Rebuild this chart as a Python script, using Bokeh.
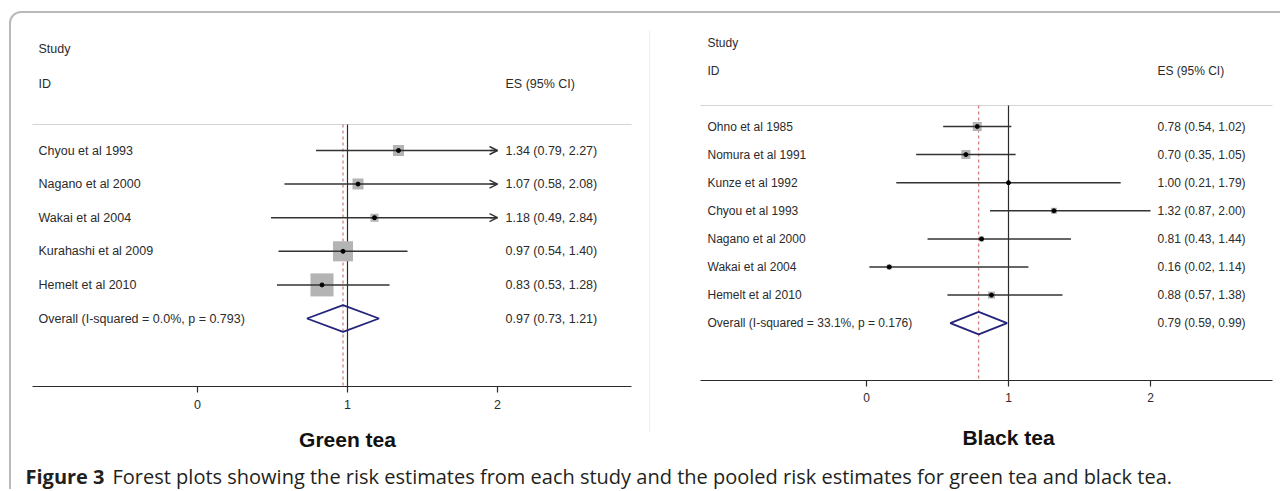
import numpy as np
from bokeh.plotting import figure
from bokeh.models import Range1d, BoxAnnotation, Arrow, OpenHead, ColumnDataSource
from bokeh.core.properties import value
from bokeh.embed import file_html
from bokeh.resources import INLINE

# ---------------- data ----------------
green_studies = ["Chyou et al 1993", "Nagano et al 2000", "Wakai et al 2004",
                 "Kurahashi et al 2009", "Hemelt et al 2010"]
green_es = [1.34, 1.07, 1.18, 0.97, 0.83]
green_lo = [0.79, 0.58, 0.49, 0.54, 0.53]
green_hi = [2.27, 2.08, 2.84, 1.40, 1.28]
green_weight = [9.8, 9.8, 5.2, 32.4, 42.8]
green_overall = [0.97, 0.73, 1.21]
green_overall_label = "Overall  (I-squared = 0.0%, p = 0.793)"

black_studies = ["Ohno et al 1985", "Nomura et al 1991", "Kunze et al 1992",
                 "Chyou et al 1993", "Nagano et al 2000", "Wakai et al 2004",
                 "Hemelt et al 2010"]
black_es = [0.78, 0.70, 1.00, 1.32, 0.81, 0.16, 0.88]
black_lo = [0.54, 0.35, 0.21, 0.87, 0.43, 0.02, 0.57]
black_hi = [1.02, 1.05, 1.79, 2.00, 1.44, 1.14, 1.38]
black_weight = [26.5, 26.5, 2.9, 11.8, 8.2, 8.2, 16.0]
black_overall = [0.79, 0.59, 0.99]
black_overall_label = "Overall  (I-squared = 33.1%, p = 0.176)"

tick_values = [0, 1, 2]
x_clip = 2
null_value = 1
caption_bold = "Figure 3"
caption_rest = ("Forest plots showing the risk estimates from each study and the "
                "pooled risk estimates for green tea and black tea.")

# ---------------- canvas ----------------
W, H = 1280, 489
OX, OY = 0, 0
p = figure(width=W, height=H, output_backend="svg", toolbar_location=None,
           x_range=Range1d(OX, OX + W), y_range=Range1d(OY + H, OY),
           x_axis_location=None, y_axis_location=None, min_border=0,
           background_fill_color="white", border_fill_color="white")
p.grid.visible = False
p.outline_line_color = None

FONT = value("Liberation Sans")
INK = "#2b2b2b"

# outer rounded frame (open at right and bottom, beyond the picture)
p.add_layout(BoxAnnotation(left=9.5, right=1400, top=11.5, bottom=700,
                           fill_alpha=0, line_color="#1a1a1a", line_width=2,
                           border_radius=11))
# faint edge of the right image
p.segment(x0=[649], x1=[649], y0=[30], y1=[432], line_color="#e9f0f0", line_width=1)


def panel(name, studies, es, lo, hi, weight, overall, overall_label, title, c):
    xr, yr = name + "_x", name + "_y"
    p.extra_x_ranges[xr] = Range1d(-(c["x0"] - OX) / c["ppu"],
                                   -(c["x0"] - OX) / c["ppu"] + W / c["ppu"])
    p.extra_y_ranges[yr] = Range1d((OY + H - c["y0"]) / c["rpp"],
                                   (OY - c["y0"]) / c["rpp"])
    n = len(studies)
    rows = list(range(n))
    hi_c = np.minimum(np.array(hi), x_clip)
    sizes = c["box"] * np.sqrt(np.array(weight))
    fs = c["fs"]

    # header
    p.text(x=[c["lab_x"]] * 2, y=[c["study_y"], c["id_y"]], text=["Study", "ID"],
           text_font=FONT, text_font_size=fs, text_color=INK,
           text_baseline="middle", text_align="left")
    p.text(x=[c["es_x"]], y=[c["id_y"]], text=["ES (95% CI)"],
           text_font=FONT, text_font_size=fs, text_color=INK,
           text_baseline="middle", text_align="left")
    # separator and axis line
    p.segment(x0=[c["ax0"]], x1=[c["ax1"]], y0=[c["sep_y"]], y1=[c["sep_y"]],
              line_color="#d4d4d4", line_width=1)
    p.segment(x0=[c["ax0"]], x1=[c["ax1"]], y0=[c["axis_y"]], y1=[c["axis_y"]],
              line_color=INK, line_width=1.2)
    # ticks + labels
    p.segment(x0=tick_values, x1=tick_values, y0=[c["axis_y"]] * 3,
              y1=[c["axis_y"] + 6] * 3, line_color=INK, line_width=1.2,
              x_range_name=xr)
    p.text(x=tick_values, y=[c["tick_y"]] * 3, text=[str(t) for t in tick_values],
           x_range_name=xr, text_font=FONT, text_font_size=fs, text_color=INK,
           text_baseline="middle", text_align="center")
    p.text(x=[null_value], y=[c["title_y"]], text=[title], x_range_name=xr,
           text_font=FONT, text_font_size="21px", text_font_style="bold",
           text_color="#111111", text_baseline="middle", text_align="center")
    # null line and overall dashed line
    p.segment(x0=[null_value], x1=[null_value], y0=[c["sep_y"]], y1=[c["axis_y"]],
              x_range_name=xr, line_color=INK, line_width=1.2)
    p.segment(x0=[overall[0]], x1=[overall[0]], y0=[c["sep_y"]], y1=[c["axis_y"]],
              x_range_name=xr, line_color="#c86a6a", line_width=1.1, line_dash="3 3")
    # study labels + estimates
    p.text(x=[c["lab_x"]] * (n + 1), y=rows + [n], text=studies + [overall_label],
           y_range_name=yr, text_font=FONT, text_font_size=fs, text_color=INK,
           text_baseline="middle", text_align="left")
    labels = [f"{e:.2f} ({l:.2f}, {h:.2f})" for e, l, h in zip(es, lo, hi)]
    labels.append(f"{overall[0]:.2f} ({overall[1]:.2f}, {overall[2]:.2f})")
    p.text(x=[c["es_x"]] * (n + 1), y=rows + [n], text=labels,
           y_range_name=yr, text_font=FONT, text_font_size=fs, text_color=INK,
           text_baseline="middle", text_align="left")
    # boxes
    p.rect(x=es, y=rows, width=sizes, height=sizes, width_units="screen",
           height_units="screen", fill_color="#b4b4b4", line_color=None,
           x_range_name=xr, y_range_name=yr)
    # CI lines
    p.segment(x0=lo, x1=hi_c, y0=rows, y1=rows, line_color="#333333",
              line_width=1.5, x_range_name=xr, y_range_name=yr)
    # arrows for clipped intervals
    clipped = [i for i in rows if hi[i] > x_clip]
    if clipped:
        src = ColumnDataSource(dict(xs=[x_clip - 0.05] * len(clipped),
                                    xe=[x_clip] * len(clipped),
                                    y=clipped))
        p.add_layout(Arrow(end=OpenHead(size=8, line_color="#333333", line_width=1.4),
                           x_start="xs", x_end="xe", y_start="y", y_end="y",
                           source=src, line_color="#333333", line_width=1.5,
                           x_range_name=xr, y_range_name=yr))
    # point estimates
    p.scatter(x=es, y=rows, size=4, marker="circle", color="black",
              x_range_name=xr, y_range_name=yr)
    # diamond
    h = 0.4
    p.patch(x=[overall[1], overall[0], overall[2], overall[0]],
            y=[n, n - h, n, n + h], fill_alpha=0, line_color="#24247c",
            line_width=1.8, x_range_name=xr, y_range_name=yr)


panel("g", green_studies, green_es, green_lo, green_hi, green_weight,
      green_overall, green_overall_label, "Green tea",
      dict(x0=197, ppu=150, y0=150, rpp=33.6, lab_x=38, es_x=505,
           study_y=48, id_y=83, sep_y=124, axis_y=386, ax0=32, ax1=631,
           tick_y=404, title_y=439, box=3.52, fs="12.5px"))
panel("b", black_studies, black_es, black_lo, black_hi, black_weight,
      black_overall, black_overall_label, "Black tea",
      dict(x0=866, ppu=142, y0=126, rpp=28.1, lab_x=707, es_x=1157,
           study_y=42, id_y=70, sep_y=105, axis_y=380, ax0=700, ax1=1272,
           tick_y=397, title_y=437, box=1.75, fs="12px"))

# caption
p.text(x=[25], y=[476], text=[caption_bold], text_font=value("Open Sans"),
       text_font_size="20px", text_font_style="bold", text_color="#231f20",
       text_baseline="alphabetic", text_align="left")
p.text(x=[112], y=[476], text=[caption_rest], text_font=value("Open Sans"),
       text_font_size="20px", text_color="#231f20",
       text_baseline="alphabetic", text_align="left")

open("out.html", "w").write(file_html(p, INLINE))
